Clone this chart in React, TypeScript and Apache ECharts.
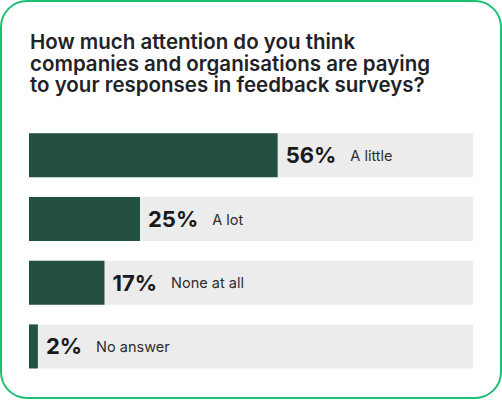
import React, { useEffect, useRef } from "react";
import * as echarts from "echarts";

const title = [
  "How much attention do you think",
  "companies and organisations are paying",
  "to your responses in feedback surveys?",
];
const categories = ["A little", "A lot", "None at all", "No answer"];
const values = [56, 25, 17, 2];

export default function App() {
  const ref = useRef<HTMLDivElement>(null);
  useEffect(() => {
    document.body.style.margin = "0";
    const chart = echarts.init(ref.current!, null, { renderer: "svg" });
    chart.setOption({
      animation: false,
      backgroundColor: "#ffffff",
      graphic: [
        {
          type: "rect",
          shape: { x: 1, y: 1, width: 500, height: 397, r: 26 },
          style: { fill: "none", stroke: "#1dbf73", lineWidth: 2 },
          z: 10,
        },
        ...title.map((t, i) => ({
          type: "text",
          left: 30,
          top: 31 + i * 21.5,
          style: {
            text: t,
            fontFamily: "Inter",
            fontWeight: 600,
            fontSize: 20.5,
            lineHeight: 21,
            fill: "#1f2328",
          },
        })),
      ],
      grid: { left: 29, right: 29, top: 123.5, bottom: 21.7, containLabel: false },
      xAxis: { type: "value", min: 0, max: 100, show: false },
      yAxis: {
        type: "category",
        data: categories,
        inverse: true,
        show: false,
      },
      series: [
        {
          type: "bar",
          data: values,
          barWidth: 44,
          itemStyle: { color: "#235040" },
          showBackground: true,
          backgroundStyle: { color: "#ebeceb" },
          label: {
            show: true,
            position: "right",
            distance: 8,
            formatter: (p: any) => `{p|${p.value}%}{c|${categories[p.dataIndex]}}`,
            rich: {
              p: {
                fontFamily: "Inter",
                fontWeight: 700,
                fontSize: 22,
                color: "#1a1a1a",
              },
              c: {
                fontFamily: "Inter",
                fontSize: 14.5,
                color: "#2d2d2d",
                padding: [0, 0, 0, 14],
              },
            },
          },
        },
      ],
    });
    return () => chart.dispose();
  }, []);
  return (
    <div
      ref={ref}
      style={{ position: "fixed", left: 0, top: 0, width: 502, height: 400 }}
    />
  );
}
